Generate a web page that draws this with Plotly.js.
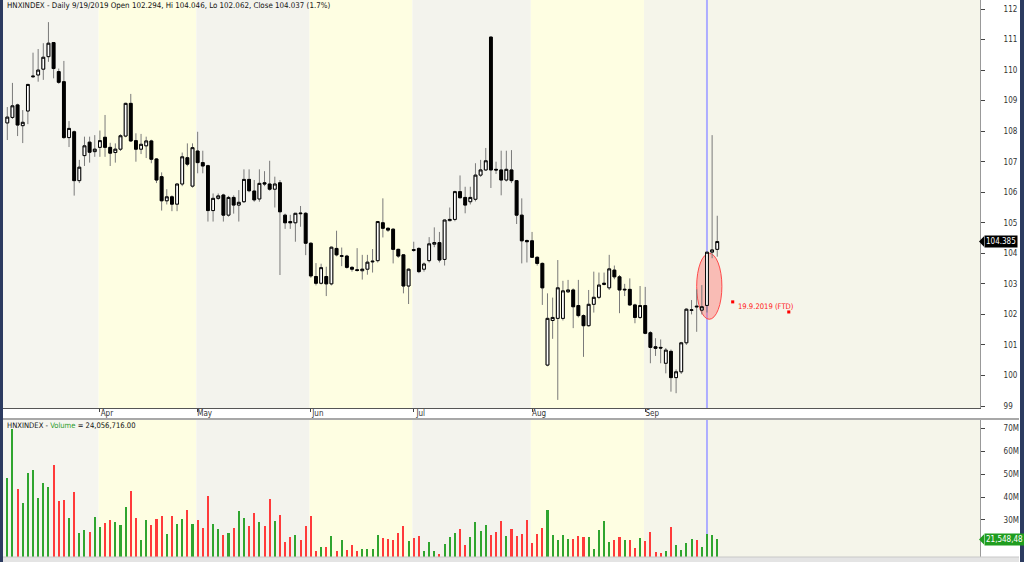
<!DOCTYPE html>
<html><head><meta charset="utf-8">
<script src="https://cdn.plot.ly/plotly-3.0.1.min.js"></script>
<style>html,body{margin:0;padding:0;background:#fff;overflow:hidden}#chart{width:1024px;height:562px}</style>
</head><body><div id="chart"></div>
<script>
// ---- data ----
const startDate = '2019-03-06';
const holidays = ['2019-04-15','2019-04-29','2019-04-30','2019-05-01','2019-09-02'];
const monthTickDates = ['2019-04-01','2019-05-02','2019-06-03','2019-07-01','2019-08-01','2019-09-03'];
const monthLabels = ['Apr','May','Jun','Jul','Aug','Sep'];
const priceTicks = [99,100,101,102,103,104,105,106,107,108,109,110,111,112];
const volTicks = [30,40,50,60,70];
const volTickLabels = ['30M','40M','50M','60M','70M'];

const open = [108.27,108.45,108.86,108.18,108.66,109.78,109.84,110.03,110.44,110.90,
109.95,109.62,107.79,107.98,106.38,107.20,107.64,107.33,107.47,107.80,
107.47,107.30,107.41,107.84,108.91,107.69,107.41,107.52,107.68,107.09,
106.51,105.72,105.85,105.61,106.27,107.13,106.20,107.35,106.97,106.87,
105.40,105.80,105.91,105.25,105.83,105.58,105.69,106.42,106.04,105.78,
106.31,106.27,106.10,106.31,105.25,105.04,105.00,105.32,105.31,104.33,
103.24,103.02,103.24,103.00,104.16,103.90,103.91,103.54,103.46,103.43,
103.48,103.72,103.76,105.00,104.82,104.79,104.13,103.95,102.93,104.12,
104.16,103.48,103.76,104.30,104.35,103.80,105.07,105.11,106.02,105.83,
105.69,105.77,106.56,106.73,111.08,106.75,106.73,106.40,106.73,106.38,
105.25,104.42,104.41,103.87,103.67,100.34,101.80,101.87,101.87,102.74,
102.80,102.29,101.96,101.63,102.33,102.56,102.98,102.87,103.45,103.23,
102.80,102.82,102.31,101.90,102.29,101.40,100.94,100.92,100.40,100.79,
99.93,100.12,101.07,102.13,102.27,102.14,102.294,104.04,104.13];
const high = [108.79,109.58,108.90,108.69,109.55,110.57,110.69,110.88,111.57,110.92,
110.05,110.30,108.33,108.02,107.06,107.82,107.82,107.87,108.02,108.53,
107.62,107.60,107.90,108.93,109.22,107.93,107.91,107.82,107.72,107.12,
106.65,106.10,105.90,106.28,107.30,107.60,107.60,107.98,107.36,106.90,
105.96,105.96,105.95,105.88,105.90,106.07,106.75,106.75,106.40,106.75,
106.69,107.03,106.51,106.40,105.30,105.26,105.31,105.55,105.35,104.36,
103.68,103.66,103.56,104.22,104.74,104.19,103.95,103.58,104.17,103.95,
103.95,104.14,105.06,105.80,104.85,104.82,104.15,103.97,103.50,104.38,
104.20,103.70,104.53,104.85,104.70,105.10,105.50,106.05,106.55,106.18,
106.18,106.95,107.06,107.45,111.10,107.00,107.36,107.36,107.38,106.40,
105.80,104.45,104.70,103.90,103.70,102.69,102.55,103.78,103.10,103.13,
102.85,103.13,102.00,102.80,103.40,103.37,103.37,103.95,103.60,103.29,
103.00,103.18,102.35,102.93,102.90,101.45,101.22,101.18,100.90,100.85,
100.20,101.10,102.20,102.47,102.82,102.96,104.046,107.87,105.23];
const low = [107.71,108.40,107.84,107.61,108.23,109.75,109.62,109.68,110.27,109.73,
109.55,107.75,107.48,105.89,106.30,106.86,106.97,107.16,107.16,107.16,
106.86,106.97,107.35,107.80,107.65,107.00,107.25,107.12,106.95,106.30,
105.40,105.60,105.38,105.38,106.20,106.85,106.15,106.62,106.62,105.04,
105.04,105.75,105.04,105.20,105.30,105.04,105.65,106.00,105.69,105.69,
106.20,106.05,105.50,103.29,104.80,104.80,104.38,104.87,103.94,103.20,
102.95,102.98,102.60,102.95,103.90,103.58,103.50,103.40,103.40,103.14,
103.30,103.37,103.70,104.52,104.70,103.67,103.85,102.69,102.34,104.05,
103.35,103.40,103.70,104.20,103.70,103.60,105.05,105.05,105.80,105.31,
105.60,105.70,106.50,106.70,106.14,106.60,105.90,106.35,106.30,104.96,
103.67,103.70,103.85,103.60,102.31,100.30,101.20,99.20,101.80,102.70,
101.55,101.90,100.61,101.60,102.06,102.50,102.95,102.80,103.15,102.04,
102.60,102.28,101.71,101.85,101.35,100.40,100.64,100.40,100.07,99.47,
99.42,100.05,101.00,102.00,101.43,102.00,102.062,103.84,103.89];
const close = [108.46,108.83,108.20,108.29,109.53,109.80,110.00,110.42,110.88,110.05,
109.60,107.79,108.09,106.38,106.82,107.52,107.31,107.41,107.69,107.47,
107.28,107.41,107.85,108.91,107.68,107.41,107.57,107.68,107.08,106.40,
105.72,105.85,105.61,106.27,107.16,106.92,107.46,106.97,106.86,105.40,
105.80,105.88,105.25,105.83,105.58,105.67,106.42,106.05,105.75,106.29,
106.27,106.10,106.27,105.36,105.00,105.00,105.31,105.30,104.33,103.26,
103.02,103.53,103.00,104.20,103.95,103.92,103.54,103.48,103.44,103.48,
103.71,103.74,105.04,104.82,104.76,104.13,103.91,102.93,103.48,104.10,
103.40,103.65,104.31,104.35,103.78,105.09,105.11,106.02,105.82,105.58,
105.83,106.56,106.73,107.03,106.73,106.73,106.40,106.75,106.38,105.25,
104.41,104.38,103.87,103.67,102.87,101.87,101.90,102.87,102.77,102.80,
102.25,101.96,101.63,102.33,102.56,102.96,103.02,103.49,103.23,102.80,
102.82,102.31,101.90,102.29,101.38,100.92,100.89,100.90,100.83,99.93,
100.12,101.07,102.17,102.15,102.25,102.25,104.037,104.11,104.385];
// volume in millions
const volume = [48.4,69.6,43.5,37.4,50.6,51.7,39.7,46.2,44.5,53.9,
38.1,38.7,30.7,42.2,24.5,25.5,24.8,31.3,27.1,28.8,
29.9,29.3,27.8,35.8,42.5,31.0,21.3,30.0,27.8,30.4,
31.6,24.1,31.6,28.4,30.4,34.2,28.4,30.1,26.4,40.6,
28.3,26.0,23.3,24.5,26.5,33.9,30.9,27.4,33.0,29.1,
27.4,39.1,29.6,32.3,20.4,22.8,23.3,21.2,27.4,31.6,
16.7,18.1,18.4,22.9,16.5,21.3,16.8,19.1,16.5,17.5,
17.5,17.3,23.3,22.0,21.6,21.2,24.2,27.4,20.9,22.3,
23.0,16.7,20.6,16.5,15.1,19.6,22.5,24.2,26.0,19.1,
22.6,29.0,25.2,27.8,23.6,24.9,29.6,23.0,26.1,23.0,
23.9,30.0,19.9,23.9,26.4,34.3,23.5,21.3,23.5,21.9,
21.6,23.0,22.6,22.6,17.3,25.7,29.6,20.3,21.3,22.5,
21.3,21.3,17.8,22.2,20.9,24.9,16.0,15.8,16.5,27.1,
19.1,17.0,20.1,21.7,21.3,18.3,24.06,23.3,21.55];
const cursorDate = '2019-09-19';
const titleText = 'HNXINDEX - Daily 9/19/2019 Open 102.294, Hi 104.046, Lo 102.062, Close 104.037 (1.7%)';
const volTitle = 'HNXINDEX - <span style="color:#2a9a2a">Volume</span> = 24,056,716.00';
const lastPriceText = '104.385';
const lastVolText = '21,548,48';
const noteText = '19.9.2019 (FTD)';

// ---- build ----
function tradingDays(start, n) {
  const out = []; const d = new Date(start + 'T00:00:00Z');
  while (out.length < n) {
    const w = d.getUTCDay(); const s = d.toISOString().slice(0, 10);
    if (w !== 0 && w !== 6 && holidays.indexOf(s) < 0) out.push(s);
    d.setUTCDate(d.getUTCDate() + 1);
  }
  return out;
}
const dates = tradingDays(startDate, close.length);
const bodyHi = open.map((o, i) => Math.max(o, close[i]));
const bodyLo = open.map((o, i) => Math.min(o, close[i]));
const volColors = close.map((c, i) => c >= open[i] ? '#2fa52f' : '#ff3a3a');

const W = 1024, H = 562;
const px = v => v / W, py = v => (H - v) / H;
const FONT = 'Liberation Sans Narrow, DejaVu Sans Condensed, Arial Narrow, sans-serif';
const XR = [-0.835, 189.07];

const shapes = [];
const bounds = [XR[0]].concat(monthTickDates.map(d => dates.indexOf(d) - 0.25)).concat([XR[1]]);
const bandCols = ['#f5f5ef', '#fefee2', '#f3f3ed', '#fefee2', '#f3f3ed', '#fefee2', '#f5f5ea'];
for (let i = 0; i < bounds.length - 1; i++) {
  ['y domain', 'y2 domain'].forEach(yr => shapes.push({type: 'rect', xref: 'x', yref: yr, x0: bounds[i], x1: bounds[i + 1], y0: 0, y1: 1, fillcolor: bandCols[i], line: {width: 0}, layer: 'below'}));
}
const ci = dates.indexOf(cursorDate);
['y domain', 'y2 domain'].forEach(yr => shapes.push({type: 'line', xref: 'x', yref: yr, x0: ci, x1: ci, y0: 0, y1: 1, line: {color: '#adadff', width: 2}, layer: 'below'}));
// FTD ellipse around the Sep 19 candle
shapes.push({type: 'circle', xref: 'x', yref: 'y', x0: ci - 2.0, x1: ci + 2.9, y0: 101.84, y1: 104.0, fillcolor: 'rgba(255,95,95,0.38)', line: {color: '#ff4a4a', width: 1}, layer: 'below'});
// note handles
[[ci + 5.0, 102.41], [ci + 15.9, 102.08]].forEach(p => shapes.push({type: 'rect', xref: 'x', yref: 'y', x0: p[0] - 0.3, x1: p[0] + 0.3, y0: p[1] - 0.05, y1: p[1] + 0.05, fillcolor: '#ff0000', line: {width: 0}}));
// frame pieces
shapes.push({type: 'line', xref: 'paper', yref: 'paper', x0: px(3), x1: px(1019), y0: py(419), y1: py(419), line: {color: '#a8a8a8', width: 2}});
shapes.push({type: 'rect', xref: 'paper', yref: 'paper', x0: px(3), x1: px(1019), y0: 0, y1: py(557), fillcolor: '#e4e4e4', line: {width: 0}});
shapes.push({type: 'line', xref: 'paper', yref: 'paper', x0: px(3), x1: px(1019), y0: py(557), y1: py(557), line: {color: '#c8c8c8', width: 1}});
shapes.push({type: 'rect', xref: 'paper', yref: 'paper', x0: 0, x1: px(3), y0: 0, y1: 1, fillcolor: '#2c3b60', line: {width: 0}});
shapes.push({type: 'rect', xref: 'paper', yref: 'paper', x0: px(1020), x1: 1, y0: 0, y1: 1, fillcolor: '#2c3b60', line: {width: 0}});
// last price arrow
const lp = close[close.length - 1];
shapes.push({type: 'path', xref: 'paper', yref: 'y', path: `M ${px(979)} ${lp} L ${px(984)} ${lp + 0.17} L ${px(984)} ${lp - 0.17} Z`, fillcolor: '#000', line: {width: 0}});
const lv = volume[volume.length - 1];
shapes.push({type: 'path', xref: 'paper', yref: 'y2', path: `M ${px(979)} ${lv} L ${px(984)} ${lv + 2.2} L ${px(984)} ${lv - 2.2} Z`, fillcolor: '#1f9d1f', line: {width: 0}});

const annotations = [
  {xref: 'paper', yref: 'paper', x: px(5), y: py(6), xanchor: 'left', yanchor: 'middle', text: titleText, showarrow: false, font: {family: FONT, size: 7.9, color: '#111'}},
  {xref: 'paper', yref: 'paper', x: px(5), y: py(425), xanchor: 'left', yanchor: 'middle', text: volTitle, showarrow: false, font: {family: FONT, size: 7.6, color: '#111'}},
  {xref: 'x', yref: 'y', x: ci + 5.6, y: 102.27, xanchor: 'left', yanchor: 'middle', text: noteText, showarrow: false, font: {family: FONT, size: 7.6, color: '#ff2020'}},
  {xref: 'paper', yref: 'y', x: px(984), y: lp, xanchor: 'left', yanchor: 'middle', text: lastPriceText, showarrow: false, bgcolor: '#000', borderpad: 1, font: {family: FONT, size: 8, color: '#fff'}},
  {xref: 'paper', yref: 'y2', x: px(984), y: lv, xanchor: 'left', yanchor: 'middle', text: lastVolText, showarrow: false, bgcolor: '#1f9d1f', borderpad: 1, font: {family: FONT, size: 8, color: '#fff'}}
];

const traces = [
  {type: 'candlestick', x: dates, open: open, high: high, low: low, close: close, xaxis: 'x', yaxis: 'y',
   increasing: {line: {color: '#7a7a7a', width: 1}, fillcolor: '#7a7a7a'},
   decreasing: {line: {color: '#7a7a7a', width: 1}, fillcolor: '#7a7a7a'}, hoverinfo: 'skip', showlegend: false},
  {type: 'candlestick', x: dates, open: open, high: bodyHi, low: bodyLo, close: close, xaxis: 'x', yaxis: 'y',
   increasing: {line: {color: '#000', width: 1}, fillcolor: '#ffffff'},
   decreasing: {line: {color: '#000', width: 1}, fillcolor: '#000000'}, hoverinfo: 'skip', showlegend: false},
  {type: 'bar', x: dates, y: volume, xaxis: 'x', yaxis: 'y2', width: 0.4, marker: {color: volColors, line: {width: 0}}, hoverinfo: 'skip', showlegend: false}
];

const axFont = {family: FONT, size: 8, color: '#333'};
const layout = {
  width: W, height: H, margin: {l: 0, r: 0, t: 0, b: 0},
  paper_bgcolor: '#ffffff', plot_bgcolor: 'rgba(0,0,0,0)',
  showlegend: false, boxmode: 'overlay', boxgap: 0.22, bargap: 0,
  xaxis: {type: 'category', domain: [px(3), px(980)], range: XR, anchor: 'y', rangeslider: {visible: false},
    showgrid: false, zeroline: false, showline: true, linecolor: '#555', linewidth: 1,
    tickmode: 'array', tickvals: monthTickDates, ticktext: monthLabels, ticks: 'outside', ticklen: 3, tickcolor: '#444',
    tickfont: axFont, ticklabelshift: 7, ticklabelstandoff: -6},
  yaxis: {domain: [py(408), 1], range: [98.935, 112.295], side: 'right', anchor: 'x', showgrid: false, zeroline: false,
    showline: true, linecolor: '#999', tickmode: 'array', tickvals: priceTicks, ticks: 'outside', ticklen: 4, tickcolor: '#444',
    tickfont: axFont, ticklabelstandoff: 17},
  yaxis2: {domain: [py(557), py(420)], range: [13.9, 73.5], side: 'right', anchor: 'x', showgrid: false, zeroline: false,
    showline: true, linecolor: '#999', tickmode: 'array', tickvals: volTicks, ticktext: volTickLabels, ticks: 'outside', ticklen: 4, tickcolor: '#444',
    tickfont: axFont, ticklabelstandoff: 17},
  shapes: shapes, annotations: annotations
};
Plotly.newPlot('chart', traces, layout, {displayModeBar: false, staticPlot: true});
</script></body></html>
